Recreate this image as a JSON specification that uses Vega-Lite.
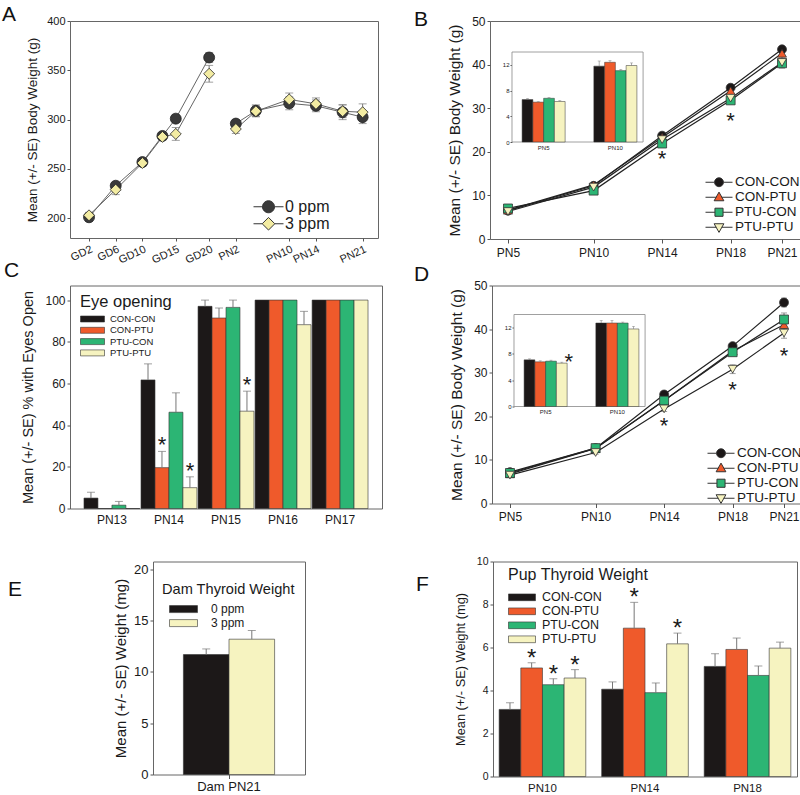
{
  "$schema": "https://vega.github.io/schema/vega-lite/v6.json",
  "padding": {"left": 1, "top": 3, "right": 0, "bottom": 0},
  "background": "white",
  "datasets": {
    "dam": [
      {"phase": "GD", "t": 2, "dose": "0 ppm", "mean": 201, "lo": 199, "hi": 203},
      {"phase": "GD", "t": 6, "dose": "0 ppm", "mean": 233, "lo": 230, "hi": 236},
      {"phase": "GD", "t": 10, "dose": "0 ppm", "mean": 257, "lo": 254, "hi": 260},
      {"phase": "GD", "t": 13, "dose": "0 ppm", "mean": 283.5, "lo": 280.5, "hi": 286.5},
      {"phase": "GD", "t": 15, "dose": "0 ppm", "mean": 301, "lo": 297, "hi": 305},
      {"phase": "GD", "t": 20, "dose": "0 ppm", "mean": 363, "lo": 358, "hi": 368},
      {"phase": "GD", "t": 2, "dose": "3 ppm", "mean": 203, "lo": 200, "hi": 206},
      {"phase": "GD", "t": 6, "dose": "3 ppm", "mean": 229, "lo": 224, "hi": 234},
      {"phase": "GD", "t": 10, "dose": "3 ppm", "mean": 256, "lo": 253, "hi": 259},
      {"phase": "GD", "t": 13, "dose": "3 ppm", "mean": 282.5, "lo": 279.5, "hi": 285.5},
      {"phase": "GD", "t": 15, "dose": "3 ppm", "mean": 285.5, "lo": 279, "hi": 292},
      {"phase": "GD", "t": 20, "dose": "3 ppm", "mean": 346.5, "lo": 338, "hi": 355},
      {"phase": "PN", "t": 24, "dose": "0 ppm", "mean": 296, "lo": 292, "hi": 300},
      {"phase": "PN", "t": 27, "dose": "0 ppm", "mean": 309, "lo": 303, "hi": 315},
      {"phase": "PN", "t": 32, "dose": "0 ppm", "mean": 316.5, "lo": 310, "hi": 323},
      {"phase": "PN", "t": 36, "dose": "0 ppm", "mean": 314, "lo": 308, "hi": 320},
      {"phase": "PN", "t": 40, "dose": "0 ppm", "mean": 307.5, "lo": 300, "hi": 315},
      {"phase": "PN", "t": 43, "dose": "0 ppm", "mean": 302.5, "lo": 296, "hi": 309},
      {"phase": "PN", "t": 24, "dose": "3 ppm", "mean": 290.5, "lo": 286, "hi": 295},
      {"phase": "PN", "t": 27, "dose": "3 ppm", "mean": 308.5, "lo": 303, "hi": 314},
      {"phase": "PN", "t": 32, "dose": "3 ppm", "mean": 320.5, "lo": 314, "hi": 327},
      {"phase": "PN", "t": 36, "dose": "3 ppm", "mean": 316, "lo": 310, "hi": 322},
      {"phase": "PN", "t": 40, "dose": "3 ppm", "mean": 308.5, "lo": 302, "hi": 315},
      {"phase": "PN", "t": 43, "dose": "3 ppm", "mean": 307.5, "lo": 300, "hi": 316}
    ],
    "female": [
      {"day": 5, "grp": "CON-CON", "mean": 6.5, "lo": 6.2, "hi": 6.8},
      {"day": 10, "grp": "CON-CON", "mean": 12.2, "lo": 11.8, "hi": 12.6},
      {"day": 14, "grp": "CON-CON", "mean": 23.7, "lo": 23.2, "hi": 24.2},
      {"day": 18, "grp": "CON-CON", "mean": 34.7, "lo": 34.2, "hi": 35.2},
      {"day": 21, "grp": "CON-CON", "mean": 43.5, "lo": 43.0, "hi": 44.0},
      {"day": 5, "grp": "CON-PTU", "mean": 6.6, "lo": 6.3, "hi": 6.9},
      {"day": 10, "grp": "CON-PTU", "mean": 12.4, "lo": 12.1, "hi": 12.7},
      {"day": 14, "grp": "CON-PTU", "mean": 23.3, "lo": 22.8, "hi": 23.8},
      {"day": 18, "grp": "CON-PTU", "mean": 34.0, "lo": 33.4, "hi": 34.6},
      {"day": 21, "grp": "CON-PTU", "mean": 42.6, "lo": 41.8, "hi": 43.4},
      {"day": 5, "grp": "PTU-CON", "mean": 7.0, "lo": 6.7, "hi": 7.3},
      {"day": 10, "grp": "PTU-CON", "mean": 11.1, "lo": 10.8, "hi": 11.4},
      {"day": 14, "grp": "PTU-CON", "mean": 21.9, "lo": 21.4, "hi": 22.4},
      {"day": 18, "grp": "PTU-CON", "mean": 31.8, "lo": 31.1, "hi": 32.5},
      {"day": 21, "grp": "PTU-CON", "mean": 40.3, "lo": 39.3, "hi": 41.3},
      {"day": 5, "grp": "PTU-PTU", "mean": 6.3, "lo": 6.0, "hi": 6.6},
      {"day": 10, "grp": "PTU-PTU", "mean": 11.9, "lo": 11.6, "hi": 12.2},
      {"day": 14, "grp": "PTU-PTU", "mean": 22.8, "lo": 22.3, "hi": 23.3},
      {"day": 18, "grp": "PTU-PTU", "mean": 32.3, "lo": 31.1, "hi": 33.5},
      {"day": 21, "grp": "PTU-PTU", "mean": 40.5, "lo": 39.2, "hi": 41.8}
    ],
    "male": [
      {"day": 5, "grp": "CON-CON", "mean": 7.2, "lo": 6.9, "hi": 7.5},
      {"day": 10, "grp": "CON-CON", "mean": 12.7, "lo": 12.3, "hi": 13.1},
      {"day": 14, "grp": "CON-CON", "mean": 25.0, "lo": 24.5, "hi": 25.5},
      {"day": 18, "grp": "CON-CON", "mean": 36.1, "lo": 35.5, "hi": 36.7},
      {"day": 21, "grp": "CON-CON", "mean": 46.1, "lo": 45.1, "hi": 47.1},
      {"day": 5, "grp": "CON-PTU", "mean": 6.8, "lo": 6.5, "hi": 7.1},
      {"day": 10, "grp": "CON-PTU", "mean": 12.6, "lo": 12.2, "hi": 13.0},
      {"day": 14, "grp": "CON-PTU", "mean": 23.6, "lo": 23.1, "hi": 24.1},
      {"day": 18, "grp": "CON-PTU", "mean": 35.0, "lo": 34.4, "hi": 35.6},
      {"day": 21, "grp": "CON-PTU", "mean": 41.0, "lo": 40.1, "hi": 41.9},
      {"day": 5, "grp": "PTU-CON", "mean": 7.0, "lo": 6.7, "hi": 7.3},
      {"day": 10, "grp": "PTU-CON", "mean": 12.7, "lo": 12.4, "hi": 13.0},
      {"day": 14, "grp": "PTU-CON", "mean": 23.6, "lo": 23.1, "hi": 24.1},
      {"day": 18, "grp": "PTU-CON", "mean": 34.7, "lo": 33.9, "hi": 35.5},
      {"day": 21, "grp": "PTU-CON", "mean": 42.2, "lo": 40.7, "hi": 43.7},
      {"day": 5, "grp": "PTU-PTU", "mean": 6.5, "lo": 6.2, "hi": 6.8},
      {"day": 10, "grp": "PTU-PTU", "mean": 11.7, "lo": 11.3, "hi": 12.1},
      {"day": 14, "grp": "PTU-PTU", "mean": 21.7, "lo": 21.1, "hi": 22.3},
      {"day": 18, "grp": "PTU-PTU", "mean": 30.8, "lo": 29.8, "hi": 31.8},
      {"day": 21, "grp": "PTU-PTU", "mean": 39.1, "lo": 37.9, "hi": 40.3}
    ],
    "female_inset": [
      {"age": "PN5", "grp": "CON-CON", "mean": 6.6, "hi": 6.75},
      {"age": "PN5", "grp": "CON-PTU", "mean": 6.2, "hi": 6.3},
      {"age": "PN5", "grp": "PTU-CON", "mean": 6.8, "hi": 6.95},
      {"age": "PN5", "grp": "PTU-PTU", "mean": 6.3, "hi": 6.45},
      {"age": "PN10", "grp": "CON-CON", "mean": 11.8, "hi": 12.6},
      {"age": "PN10", "grp": "CON-PTU", "mean": 12.4, "hi": 12.65},
      {"age": "PN10", "grp": "PTU-CON", "mean": 11.1, "hi": 11.3},
      {"age": "PN10", "grp": "PTU-PTU", "mean": 11.9, "hi": 12.3}
    ],
    "male_inset": [
      {"age": "PN5", "grp": "CON-CON", "mean": 7.1, "hi": 7.25, "sig": false},
      {"age": "PN5", "grp": "CON-PTU", "mean": 6.8, "hi": 6.95, "sig": false},
      {"age": "PN5", "grp": "PTU-CON", "mean": 6.9, "hi": 7.05, "sig": false},
      {"age": "PN5", "grp": "PTU-PTU", "mean": 6.6, "hi": 6.75, "sig": true},
      {"age": "PN10", "grp": "CON-CON", "mean": 12.7, "hi": 13.1, "sig": false},
      {"age": "PN10", "grp": "CON-PTU", "mean": 12.7, "hi": 13.1, "sig": false},
      {"age": "PN10", "grp": "PTU-CON", "mean": 12.7, "hi": 12.85, "sig": false},
      {"age": "PN10", "grp": "PTU-PTU", "mean": 11.8, "hi": 12.2, "sig": false}
    ],
    "eye": [
      {"age": "PN13", "grp": "CON-CON", "mean": 5.0, "hi": 7.8, "sig": false},
      {"age": "PN13", "grp": "CON-PTU", "mean": 0, "hi": 0, "sig": false},
      {"age": "PN13", "grp": "PTU-CON", "mean": 1.6, "hi": 3.4, "sig": false},
      {"age": "PN13", "grp": "PTU-PTU", "mean": 0, "hi": 0, "sig": false},
      {"age": "PN14", "grp": "CON-CON", "mean": 61.7, "hi": 69.4, "sig": false},
      {"age": "PN14", "grp": "CON-PTU", "mean": 19.6, "hi": 27.4, "sig": true},
      {"age": "PN14", "grp": "PTU-CON", "mean": 46.2, "hi": 55.5, "sig": false},
      {"age": "PN14", "grp": "PTU-PTU", "mean": 10.0, "hi": 15.2, "sig": true},
      {"age": "PN15", "grp": "CON-CON", "mean": 97.0, "hi": 100, "sig": false},
      {"age": "PN15", "grp": "CON-PTU", "mean": 91.4, "hi": 96.2, "sig": false},
      {"age": "PN15", "grp": "PTU-CON", "mean": 96.5, "hi": 100, "sig": false},
      {"age": "PN15", "grp": "PTU-PTU", "mean": 46.7, "hi": 56.3, "sig": true},
      {"age": "PN16", "grp": "CON-CON", "mean": 100, "hi": 100, "sig": false},
      {"age": "PN16", "grp": "CON-PTU", "mean": 100, "hi": 100, "sig": false},
      {"age": "PN16", "grp": "PTU-CON", "mean": 100, "hi": 100, "sig": false},
      {"age": "PN16", "grp": "PTU-PTU", "mean": 88.2, "hi": 94.6, "sig": false},
      {"age": "PN17", "grp": "CON-CON", "mean": 100, "hi": 100, "sig": false},
      {"age": "PN17", "grp": "CON-PTU", "mean": 100, "hi": 100, "sig": false},
      {"age": "PN17", "grp": "PTU-CON", "mean": 100, "hi": 100, "sig": false},
      {"age": "PN17", "grp": "PTU-PTU", "mean": 100, "hi": 100, "sig": false}
    ],
    "dam_thy": [
      {"grp": "Dam PN21", "dose": "0 ppm", "mean": 11.7, "hi": 12.25},
      {"grp": "Dam PN21", "dose": "3 ppm", "mean": 13.2, "hi": 14.05}
    ],
    "pup_thy": [
      {"age": "PN10", "grp": "CON-CON", "mean": 3.12, "hi": 3.43, "sig": false},
      {"age": "PN10", "grp": "CON-PTU", "mean": 5.05, "hi": 5.29, "sig": true},
      {"age": "PN10", "grp": "PTU-CON", "mean": 4.27, "hi": 4.55, "sig": true},
      {"age": "PN10", "grp": "PTU-PTU", "mean": 4.58, "hi": 4.97, "sig": true},
      {"age": "PN14", "grp": "CON-CON", "mean": 4.06, "hi": 4.4, "sig": false},
      {"age": "PN14", "grp": "CON-PTU", "mean": 6.9, "hi": 8.1, "sig": true},
      {"age": "PN14", "grp": "PTU-CON", "mean": 3.9, "hi": 4.35, "sig": false},
      {"age": "PN14", "grp": "PTU-PTU", "mean": 6.17, "hi": 6.67, "sig": true},
      {"age": "PN18", "grp": "CON-CON", "mean": 5.12, "hi": 5.71, "sig": false},
      {"age": "PN18", "grp": "CON-PTU", "mean": 5.91, "hi": 6.44, "sig": false},
      {"age": "PN18", "grp": "PTU-CON", "mean": 4.7, "hi": 5.14, "sig": false},
      {"age": "PN18", "grp": "PTU-PTU", "mean": 5.97, "hi": 6.25, "sig": false}
    ]
  },
  "concat": [
    {
      "concat": [
        {
          "hconcat": [
            {
              "width": 308, "height": 217,
              "title": {"text": "A", "dx": -68, "dy": 14},
              "data": {"name": "dam"},
              "encoding": {
                "x": {"field": "t", "type": "quantitative", "scale": {"domain": [-0.85, 45.3], "nice": false, "zero": false},
                  "axis": {"title": null, "values": [2, 6, 10, 15, 20, 24, 32, 36, 43], "labelExpr": "datum.value <= 20 ? 'GD' + datum.value : 'PN' + (datum.value - 22)", "labelAngle": -25, "labelAlign": "right", "labelBaseline": "top", "labelFontSize": 11, "labelPadding": 2, "labelOverlap": false}}
              },
              "layer": [
                {"mark": {"type": "rule", "color": "#777"}, "encoding": {"y": {"field": "lo", "type": "quantitative", "scale": {"domain": [180, 400], "nice": false, "zero": false}, "axis": {"title": "Mean (+/- SE) Body Weight (g)", "values": [200, 225, 250, 275, 300, 325, 350, 375, 400], "labelFontSize": 11, "titleFontSize": 13.5, "titlePadding": 7}}, "y2": {"field": "hi"}}},
                {"mark": {"type": "tick", "orient": "horizontal", "color": "#777", "size": 8, "thickness": 1}, "encoding": {"y": {"field": "lo", "type": "quantitative"}}},
                {"mark": {"type": "tick", "orient": "horizontal", "color": "#777", "size": 8, "thickness": 1}, "encoding": {"y": {"field": "hi", "type": "quantitative"}}},
                {"mark": {"type": "line", "color": "#666", "strokeWidth": 1}, "encoding": {"y": {"field": "mean", "type": "quantitative"}, "detail": [{"field": "dose"}, {"field": "phase"}]}},
                {"mark": {"type": "point", "filled": true, "size": 120, "stroke": "#222", "strokeWidth": 0.8, "opacity": 1},
                  "encoding": {
                    "y": {"field": "mean", "type": "quantitative"},
                    "fill": {"field": "dose", "type": "nominal", "scale": {"domain": ["0 ppm", "3 ppm"], "range": ["#3a3a3a", "#f3eca2"]},
                      "legend": {"title": null, "orient": "none", "legendX": 183, "legendY": 178, "labelFontSize": 16, "symbolSize": 900, "labelOffset": 1, "rowPadding": 0, "clipHeight": 15.5,
                        "encoding": {"symbols": {"shape": {"value": {"expr": "datum.value === '0 ppm' ? 'M-1,0H-0.4M0.4,0H1M-0.4,0A0.4,0.4,0,1,1,0.4,0A0.4,0.4,0,1,1,-0.4,0Z' : 'M-1,0H-0.42M0.42,0H1M0,-0.42L0.42,0L0,0.42L-0.42,0Z'"}}, "stroke": {"value": "#333"}, "strokeWidth": {"value": 1}, "size": {"value": 900}}}}},
                    "shape": {"field": "dose", "type": "nominal", "scale": {"domain": ["0 ppm", "3 ppm", "zz"], "range": ["circle", "diamond", "square"]}, "legend": null}
                  }},
                {"data": {"values": [{}]}, "mark": {"type": "text", "text": "Dam Weight", "align": "left", "baseline": "alphabetic", "fontSize": 15.5}, "encoding": {"x": {"datum": 0.2}, "y": {"datum": 381}}}
              ]
            },
            {
              "width": 310, "height": 218,
              "title": {"text": "B", "dx": -76, "dy": 19},
              "layer": [
                {
                  "data": {"name": "female"},
                  "encoding": {"x": {"field": "day", "type": "quantitative", "scale": {"domain": [3.95, 22.05], "nice": false, "zero": false}, "axis": {"title": null, "values": [5, 10, 14, 18, 21], "labelExpr": "'PN' + datum.value", "labelFontSize": 12, "tickSize": 4, "labelPadding": 4}}},
                  "layer": [
                    {"mark": {"type": "rule", "color": "#777"}, "encoding": {"y": {"field": "lo", "type": "quantitative", "scale": {"domain": [0, 50], "nice": false}, "axis": {"title": "Mean (+/- SE) Body Weight (g)", "values": [0, 5, 10, 15, 20, 25, 30, 35, 40, 45, 50], "labelExpr": "datum.value % 10 === 0 ? datum.label : ''", "labelFontSize": 12, "titleFontSize": 15.5, "titlePadding": 9}}, "y2": {"field": "hi"}}},
                    {"mark": {"type": "tick", "orient": "horizontal", "color": "#777", "size": 6, "thickness": 1}, "encoding": {"y": {"field": "lo", "type": "quantitative"}}},
                    {"mark": {"type": "tick", "orient": "horizontal", "color": "#777", "size": 6, "thickness": 1}, "encoding": {"y": {"field": "hi", "type": "quantitative"}}},
                    {"mark": {"type": "line", "color": "#222", "strokeWidth": 1.2}, "encoding": {"y": {"field": "mean", "type": "quantitative"}, "detail": {"field": "grp"}}},
                    {"mark": {"type": "point", "filled": true, "size": 80, "stroke": "#333", "strokeWidth": 0.8, "opacity": 1},
                      "encoding": {
                        "y": {"field": "mean", "type": "quantitative"},
                        "fill": {"field": "grp", "type": "nominal", "scale": {"domain": ["CON-CON", "CON-PTU", "PTU-CON", "PTU-PTU"], "range": ["#1c1818", "#ef5a2b", "#2cb574", "#f6f3c0"]},
                          "legend": {"title": null, "orient": "none", "legendX": 215, "legendY": 154, "labelFontSize": 13.5, "symbolSize": 729, "labelOffset": 2, "rowPadding": -1, "clipHeight": 14.5,
                            "encoding": {"symbols": {"shape": {"value": {"expr": "datum.value === 'CON-CON' ? 'M-1,0H-0.33M0.33,0H1M-0.33,0A0.33,0.33,0,1,1,0.33,0A0.33,0.33,0,1,1,-0.33,0Z' : datum.value === 'CON-PTU' ? 'M-1,0H-0.2M0.2,0H1M0,-0.38L0.36,0.26L-0.36,0.26Z' : datum.value === 'PTU-CON' ? 'M-1,0H-0.3M0.3,0H1M-0.3,-0.3H0.3V0.3H-0.3Z' : 'M-1,0H-0.2M0.2,0H1M0,0.38L0.36,-0.26L-0.36,-0.26Z'"}}, "stroke": {"value": "#333"}, "strokeWidth": {"value": 1}, "size": {"value": 729}}}}},
                        "shape": {"field": "grp", "type": "nominal", "scale": {"domain": ["CON-CON", "CON-PTU", "PTU-CON", "PTU-PTU", "zz"], "range": ["circle", "triangle-up", "square", "triangle-down", "diamond"]}, "legend": null}
                      }},
                    {"data": {"values": [{"day": 14, "y": 19.6}, {"day": 18, "y": 28.4}]}, "mark": {"type": "text", "text": "*", "fontSize": 22, "baseline": "alphabetic", "dy": 12.8}, "encoding": {"y": {"field": "y", "type": "quantitative"}}},
                    {"data": {"values": [{}]}, "mark": {"type": "text", "text": "Female Pup Weight", "align": "left", "baseline": "alphabetic", "fontSize": 15}, "encoding": {"x": {"datum": 4.57}, "y": {"datum": 45.8}}}
                  ]
                },
                {
                  "data": {"name": "female_inset"},
                  "encoding": {"x": {"field": "age", "type": "nominal", "scale": {"domain": ["PN5", "PN10"], "range": [24, 155], "paddingInner": 0.4, "paddingOuter": 0.113}, "axis": {"title": null, "orient": "bottom", "offset": -97, "labelFontSize": 6, "ticks": false, "labelPadding": 2, "labelAngle": 0}}},
                  "layer": [
                    {"data": {"values": [{}]}, "mark": {"type": "rect", "fill": "white", "stroke": "#888", "strokeWidth": 0.8}, "encoding": {"x": {"datum": "PN5", "bandPosition": -0.235}, "x2": {"datum": "PN10", "bandPosition": 1.144}, "y": {"datum": 0, "type": "quantitative"}, "y2": {"datum": 14}}},
                    {"mark": {"type": "bar", "stroke": "#333", "strokeWidth": 0.5},
                      "encoding": {
                        "xOffset": {"field": "grp", "type": "nominal", "scale": {"domain": ["CON-CON", "CON-PTU", "PTU-CON", "PTU-PTU"], "paddingInner": 0, "paddingOuter": 0}},
                        "y": {"field": "mean", "type": "quantitative", "scale": {"domain": [0, 14], "range": [121, 31], "nice": false}, "axis": {"title": null, "orient": "left", "offset": -22, "values": [0, 2, 4, 6, 8, 10, 12, 14], "labelFontSize": 6, "tickSize": 2, "labelPadding": 1}},
                        "fill": {"field": "grp", "type": "nominal", "legend": null}
                      }},
                    {"mark": {"type": "rule", "color": "#777", "strokeWidth": 0.6}, "encoding": {"xOffset": {"field": "grp", "type": "nominal"}, "y": {"field": "mean", "type": "quantitative"}, "y2": {"field": "hi"}}},
                    {"mark": {"type": "tick", "orient": "horizontal", "color": "#777", "size": 3, "thickness": 0.6}, "encoding": {"xOffset": {"field": "grp", "type": "nominal"}, "y": {"field": "hi", "type": "quantitative"}}}
                  ]
                }
              ],
              "resolve": {"scale": {"x": "independent", "y": "independent"}}
            }
          ],
          "spacing": 34,
          "resolve": {"scale": {"fill": "independent", "shape": "independent", "xOffset": "independent"}}
        },
        {
          "hconcat": [
            {
              "width": 312, "height": 223,
              "title": {"text": "C", "dx": -66, "dy": -0.5},
              "data": {"name": "eye"},
              "encoding": {
                "x": {"field": "age", "type": "nominal", "scale": {"paddingInner": 0.02, "paddingOuter": 0.245}, "axis": {"title": null, "labelAngle": 0, "ticks": false, "labelFontSize": 12, "labelPadding": 6}},
                "xOffset": {"field": "grp", "type": "nominal", "scale": {"domain": ["CON-CON", "CON-PTU", "PTU-CON", "PTU-PTU"]}}
              },
              "layer": [
                {"mark": {"type": "bar", "stroke": "#333", "strokeWidth": 0.6},
                  "encoding": {
                    "y": {"field": "mean", "type": "quantitative", "scale": {"domain": [0, 107], "nice": false}, "axis": {"title": "Mean (+/- SE) % with Eyes Open", "values": [0, 10, 20, 30, 40, 50, 60, 70, 80, 90, 100], "labelExpr": "datum.value % 20 === 0 ? datum.label : ''", "labelFontSize": 12, "titleFontSize": 14.5, "titlePadding": 9}},
                    "fill": {"field": "grp", "type": "nominal", "scale": {"domain": ["CON-CON", "CON-PTU", "PTU-CON", "PTU-PTU"], "range": ["#1c1818", "#ef5a2b", "#2cb574", "#f6f3c0"]},
                      "legend": {"title": "Eye opening", "orient": "none", "legendX": 10, "legendY": 8, "titleFontSize": 16.5, "labelFontSize": 9.5, "symbolType": "M-1,-0.25H1V0.25H-1Z", "symbolSize": 576, "symbolStrokeColor": "#333", "symbolStrokeWidth": 0.6, "rowPadding": 1.3, "clipHeight": 10, "titlePadding": 4, "labelOffset": 5}}
                  }},
                {"transform": [{"filter": "datum.hi > datum.mean"}], "mark": {"type": "rule", "color": "#777"}, "encoding": {"y": {"field": "mean", "type": "quantitative"}, "y2": {"field": "hi"}}},
                {"transform": [{"filter": "datum.hi > datum.mean"}], "mark": {"type": "tick", "orient": "horizontal", "color": "#777", "size": 8, "thickness": 1}, "encoding": {"y": {"field": "hi", "type": "quantitative"}}},
                {"transform": [{"filter": "datum.sig"}], "mark": {"type": "text", "text": "*", "fontSize": 22, "baseline": "alphabetic", "dy": 1}, "encoding": {"y": {"field": "hi", "type": "quantitative"}}}
              ]
            },
            {
              "width": 310, "height": 218,
              "title": {"text": "D", "dx": -78, "dy": 9},
              "layer": [
                {
                  "data": {"name": "male"},
                  "encoding": {"x": {"field": "day", "type": "quantitative", "scale": {"domain": [3.95, 22.05], "nice": false, "zero": false}, "axis": {"title": null, "values": [5, 10, 14, 18, 21], "labelExpr": "'PN' + datum.value", "labelFontSize": 12, "tickSize": 4, "labelPadding": 4}}},
                  "layer": [
                    {"mark": {"type": "rule", "color": "#777"}, "encoding": {"y": {"field": "lo", "type": "quantitative", "scale": {"domain": [0, 50], "nice": false}, "axis": {"title": "Mean (+/- SE) Body Weight (g)", "values": [0, 5, 10, 15, 20, 25, 30, 35, 40, 45, 50], "labelExpr": "datum.value % 10 === 0 ? datum.label : ''", "labelFontSize": 12, "titleFontSize": 15.5, "titlePadding": 9}}, "y2": {"field": "hi"}}},
                    {"mark": {"type": "tick", "orient": "horizontal", "color": "#777", "size": 6, "thickness": 1}, "encoding": {"y": {"field": "lo", "type": "quantitative"}}},
                    {"mark": {"type": "tick", "orient": "horizontal", "color": "#777", "size": 6, "thickness": 1}, "encoding": {"y": {"field": "hi", "type": "quantitative"}}},
                    {"mark": {"type": "line", "color": "#222", "strokeWidth": 1.2}, "encoding": {"y": {"field": "mean", "type": "quantitative"}, "detail": {"field": "grp"}}},
                    {"mark": {"type": "point", "filled": true, "size": 80, "stroke": "#333", "strokeWidth": 0.8, "opacity": 1},
                      "encoding": {
                        "y": {"field": "mean", "type": "quantitative"},
                        "fill": {"field": "grp", "type": "nominal", "scale": {"domain": ["CON-CON", "CON-PTU", "PTU-CON", "PTU-PTU"], "range": ["#1c1818", "#ef5a2b", "#2cb574", "#f6f3c0"]},
                          "legend": {"title": null, "orient": "none", "legendX": 215, "legendY": 160.5, "labelFontSize": 13.5, "symbolSize": 729, "labelOffset": 2, "rowPadding": -1, "clipHeight": 14.5,
                            "encoding": {"symbols": {"shape": {"value": {"expr": "datum.value === 'CON-CON' ? 'M-1,0H-0.33M0.33,0H1M-0.33,0A0.33,0.33,0,1,1,0.33,0A0.33,0.33,0,1,1,-0.33,0Z' : datum.value === 'CON-PTU' ? 'M-1,0H-0.2M0.2,0H1M0,-0.38L0.36,0.26L-0.36,0.26Z' : datum.value === 'PTU-CON' ? 'M-1,0H-0.3M0.3,0H1M-0.3,-0.3H0.3V0.3H-0.3Z' : 'M-1,0H-0.2M0.2,0H1M0,0.38L0.36,-0.26L-0.36,-0.26Z'"}}, "stroke": {"value": "#333"}, "strokeWidth": {"value": 1}, "size": {"value": 729}}}}},
                        "shape": {"field": "grp", "type": "nominal", "scale": {"domain": ["CON-CON", "CON-PTU", "PTU-CON", "PTU-PTU", "zz"], "range": ["circle", "triangle-up", "square", "triangle-down", "diamond"]}, "legend": null}
                      }},
                    {"data": {"values": [{"day": 14, "y": 19.1}, {"day": 18, "y": 27.3}, {"day": 21, "y": 35.1}]}, "mark": {"type": "text", "text": "*", "fontSize": 22, "baseline": "alphabetic", "dy": 12.8}, "encoding": {"y": {"field": "y", "type": "quantitative"}}},
                    {"data": {"values": [{}]}, "mark": {"type": "text", "text": "Male Pup Weight", "align": "left", "baseline": "alphabetic", "fontSize": 15}, "encoding": {"x": {"datum": 4.57}, "y": {"datum": 45.3}}}
                  ]
                },
                {
                  "data": {"name": "male_inset"},
                  "encoding": {"x": {"field": "age", "type": "nominal", "scale": {"domain": ["PN5", "PN10"], "range": [24, 155], "paddingInner": 0.4, "paddingOuter": 0.113}, "axis": {"title": null, "orient": "bottom", "offset": -97, "labelFontSize": 6, "ticks": false, "labelPadding": 2, "labelAngle": 0}}},
                  "layer": [
                    {"data": {"values": [{}]}, "mark": {"type": "rect", "fill": "white", "stroke": "#888", "strokeWidth": 0.8}, "encoding": {"x": {"datum": "PN5", "bandPosition": -0.235}, "x2": {"datum": "PN10", "bandPosition": 1.144}, "y": {"datum": 0, "type": "quantitative"}, "y2": {"datum": 14}}},
                    {"mark": {"type": "bar", "stroke": "#333", "strokeWidth": 0.5},
                      "encoding": {
                        "xOffset": {"field": "grp", "type": "nominal", "scale": {"domain": ["CON-CON", "CON-PTU", "PTU-CON", "PTU-PTU"], "paddingInner": 0, "paddingOuter": 0}},
                        "y": {"field": "mean", "type": "quantitative", "scale": {"domain": [0, 14], "range": [121, 29], "nice": false}, "axis": {"title": null, "orient": "left", "offset": -22, "values": [0, 2, 4, 6, 8, 10, 12, 14], "labelFontSize": 6, "tickSize": 2, "labelPadding": 1}},
                        "fill": {"field": "grp", "type": "nominal", "legend": null}
                      }},
                    {"mark": {"type": "rule", "color": "#777", "strokeWidth": 0.6}, "encoding": {"xOffset": {"field": "grp", "type": "nominal"}, "y": {"field": "mean", "type": "quantitative"}, "y2": {"field": "hi"}}},
                    {"mark": {"type": "tick", "orient": "horizontal", "color": "#777", "size": 3, "thickness": 0.6}, "encoding": {"xOffset": {"field": "grp", "type": "nominal"}, "y": {"field": "hi", "type": "quantitative"}}},
                    {"transform": [{"filter": "datum.sig"}], "mark": {"type": "text", "text": "*", "fontSize": 22, "baseline": "alphabetic", "dx": 7, "dy": 7}, "encoding": {"xOffset": {"field": "grp", "type": "nominal"}, "y": {"field": "hi", "type": "quantitative"}}}
                  ]
                }
              ],
              "resolve": {"scale": {"x": "independent", "y": "independent"}}
            }
          ],
          "spacing": 30,
          "resolve": {"scale": {"fill": "independent", "shape": "independent", "xOffset": "independent"}}
        }
      ],
      "columns": 1,
      "align": "none",
      "spacing": -6.5,
      "resolve": {"scale": {"fill": "independent", "shape": "independent", "xOffset": "independent"}}
    },
    {
      "hconcat": [
        {
          "hconcat": [
            {
              "width": 1, "height": 213,
              "title": {"text": "E", "dx": -62, "dy": 42.5},
              "view": {"stroke": null},
              "data": {"values": [{}]},
              "mark": {"type": "text", "text": ""}
            },
            {
              "width": 152, "height": 213,
              "data": {"name": "dam_thy"},
              "encoding": {
                "x": {"field": "grp", "type": "nominal", "scale": {"paddingInner": 0.4, "paddingOuter": 0.2}, "axis": {"title": null, "labelAngle": 0, "labelFontSize": 13, "tickSize": 4, "labelPadding": 2}},
                "xOffset": {"field": "dose", "type": "nominal"}
              },
              "layer": [
                {"mark": {"type": "bar", "stroke": "#333", "strokeWidth": 0.6},
                  "encoding": {
                    "y": {"field": "mean", "type": "quantitative", "scale": {"domain": [0, 20.78], "nice": false}, "axis": {"title": "Mean (+/- SE) Weight (mg)", "values": [0, 2.5, 5, 7.5, 10, 12.5, 15, 17.5, 20], "labelExpr": "datum.value % 5 === 0 ? datum.label : ''", "labelFontSize": 13, "titleFontSize": 15, "titlePadding": 5}},
                    "fill": {"field": "dose", "type": "nominal", "scale": {"domain": ["0 ppm", "3 ppm"], "range": ["#1c1818", "#f6f3c0"]},
                      "legend": {"title": "Dam Thyroid Weight", "orient": "none", "legendX": 9, "legendY": 20, "titleFontSize": 14.6, "labelFontSize": 12, "symbolType": "M-1,-0.25H1V0.25H-1Z", "symbolSize": 784, "symbolStrokeColor": "#333", "symbolStrokeWidth": 0.6, "rowPadding": 2, "clipHeight": 12, "titlePadding": 7, "symbolOffset": 7, "labelOffset": 13}}
                  }},
                {"mark": {"type": "rule", "color": "#777"}, "encoding": {"y": {"field": "mean", "type": "quantitative"}, "y2": {"field": "hi"}}},
                {"mark": {"type": "tick", "orient": "horizontal", "color": "#777", "size": 8, "thickness": 1}, "encoding": {"y": {"field": "hi", "type": "quantitative"}}}
              ]
            }
          ],
          "spacing": 42,
          "resolve": {"scale": {"fill": "independent", "shape": "independent", "xOffset": "independent"}}
        },
        {
          "width": 304, "height": 215,
          "title": {"text": "F", "dx": -77, "dy": 42.7},
          "data": {"name": "pup_thy"},
          "encoding": {
            "x": {"field": "age", "type": "nominal", "scale": {"paddingInner": 0.155, "paddingOuter": 0.06}, "axis": {"title": null, "labelAngle": 0, "ticks": false, "labelFontSize": 11.5, "labelPadding": 6}},
            "xOffset": {"field": "grp", "type": "nominal", "scale": {"domain": ["CON-CON", "CON-PTU", "PTU-CON", "PTU-PTU"]}}
          },
          "layer": [
            {"mark": {"type": "bar", "stroke": "#333", "strokeWidth": 0.6},
              "encoding": {
                "y": {"field": "mean", "type": "quantitative", "scale": {"domain": [0, 10], "nice": false}, "axis": {"title": "Mean (+/- SE) Weight (mg)", "values": [0, 1, 2, 3, 4, 5, 6, 7, 8, 9, 10], "labelExpr": "datum.value % 2 === 0 ? datum.label : ''", "labelFontSize": 10.5, "titleFontSize": 12.8, "titlePadding": 9}},
                "fill": {"field": "grp", "type": "nominal", "scale": {"domain": ["CON-CON", "CON-PTU", "PTU-CON", "PTU-PTU"], "range": ["#1c1818", "#ef5a2b", "#2cb574", "#f6f3c0"]},
                  "legend": {"title": "Pup Thyroid Weight", "orient": "none", "legendX": 15, "legendY": 5, "titleFontSize": 16, "labelFontSize": 12.5, "symbolType": "M-1,-0.25H1V0.25H-1Z", "symbolSize": 729, "symbolStrokeColor": "#333", "symbolStrokeWidth": 0.6, "rowPadding": 1, "clipHeight": 12, "titlePadding": 8.8, "labelOffset": 6}}
              }},
            {"mark": {"type": "rule", "color": "#777"}, "encoding": {"y": {"field": "mean", "type": "quantitative"}, "y2": {"field": "hi"}}},
            {"mark": {"type": "tick", "orient": "horizontal", "color": "#777", "size": 8, "thickness": 1}, "encoding": {"y": {"field": "hi", "type": "quantitative"}}},
            {"transform": [{"filter": "datum.sig"}], "mark": {"type": "text", "text": "*", "fontSize": 24, "baseline": "alphabetic", "dy": 3}, "encoding": {"y": {"field": "hi", "type": "quantitative"}}}
          ]
        }
      ],
      "spacing": 109,
      "resolve": {"scale": {"fill": "independent", "shape": "independent", "xOffset": "independent"}}
    }
  ],
  "columns": 1,
  "align": "none",
  "spacing": 29.5,
  "resolve": {"scale": {"fill": "independent", "shape": "independent", "xOffset": "independent"}},
  "config": {
    "font": "Liberation Sans",
    "view": {"stroke": "#666", "strokeWidth": 1},
    "axis": {"grid": false, "domain": false, "tickColor": "#555", "tickSize": 3, "labelColor": "#1a1a1a", "titleColor": "#1a1a1a", "titleFontWeight": "normal", "labelFont": "Liberation Sans", "titleFont": "Liberation Sans"},
    "legend": {"padding": 0, "titleFontWeight": "normal", "labelColor": "#1a1a1a", "titleColor": "#1a1a1a", "labelFont": "Liberation Sans", "titleFont": "Liberation Sans"},
    "title": {"fontWeight": "normal", "anchor": "start", "frame": "group", "fontSize": 21, "color": "#111", "baseline": "alphabetic", "offset": 0},
    "text": {"font": "Liberation Sans", "color": "#1a1a1a"}
  }
}
